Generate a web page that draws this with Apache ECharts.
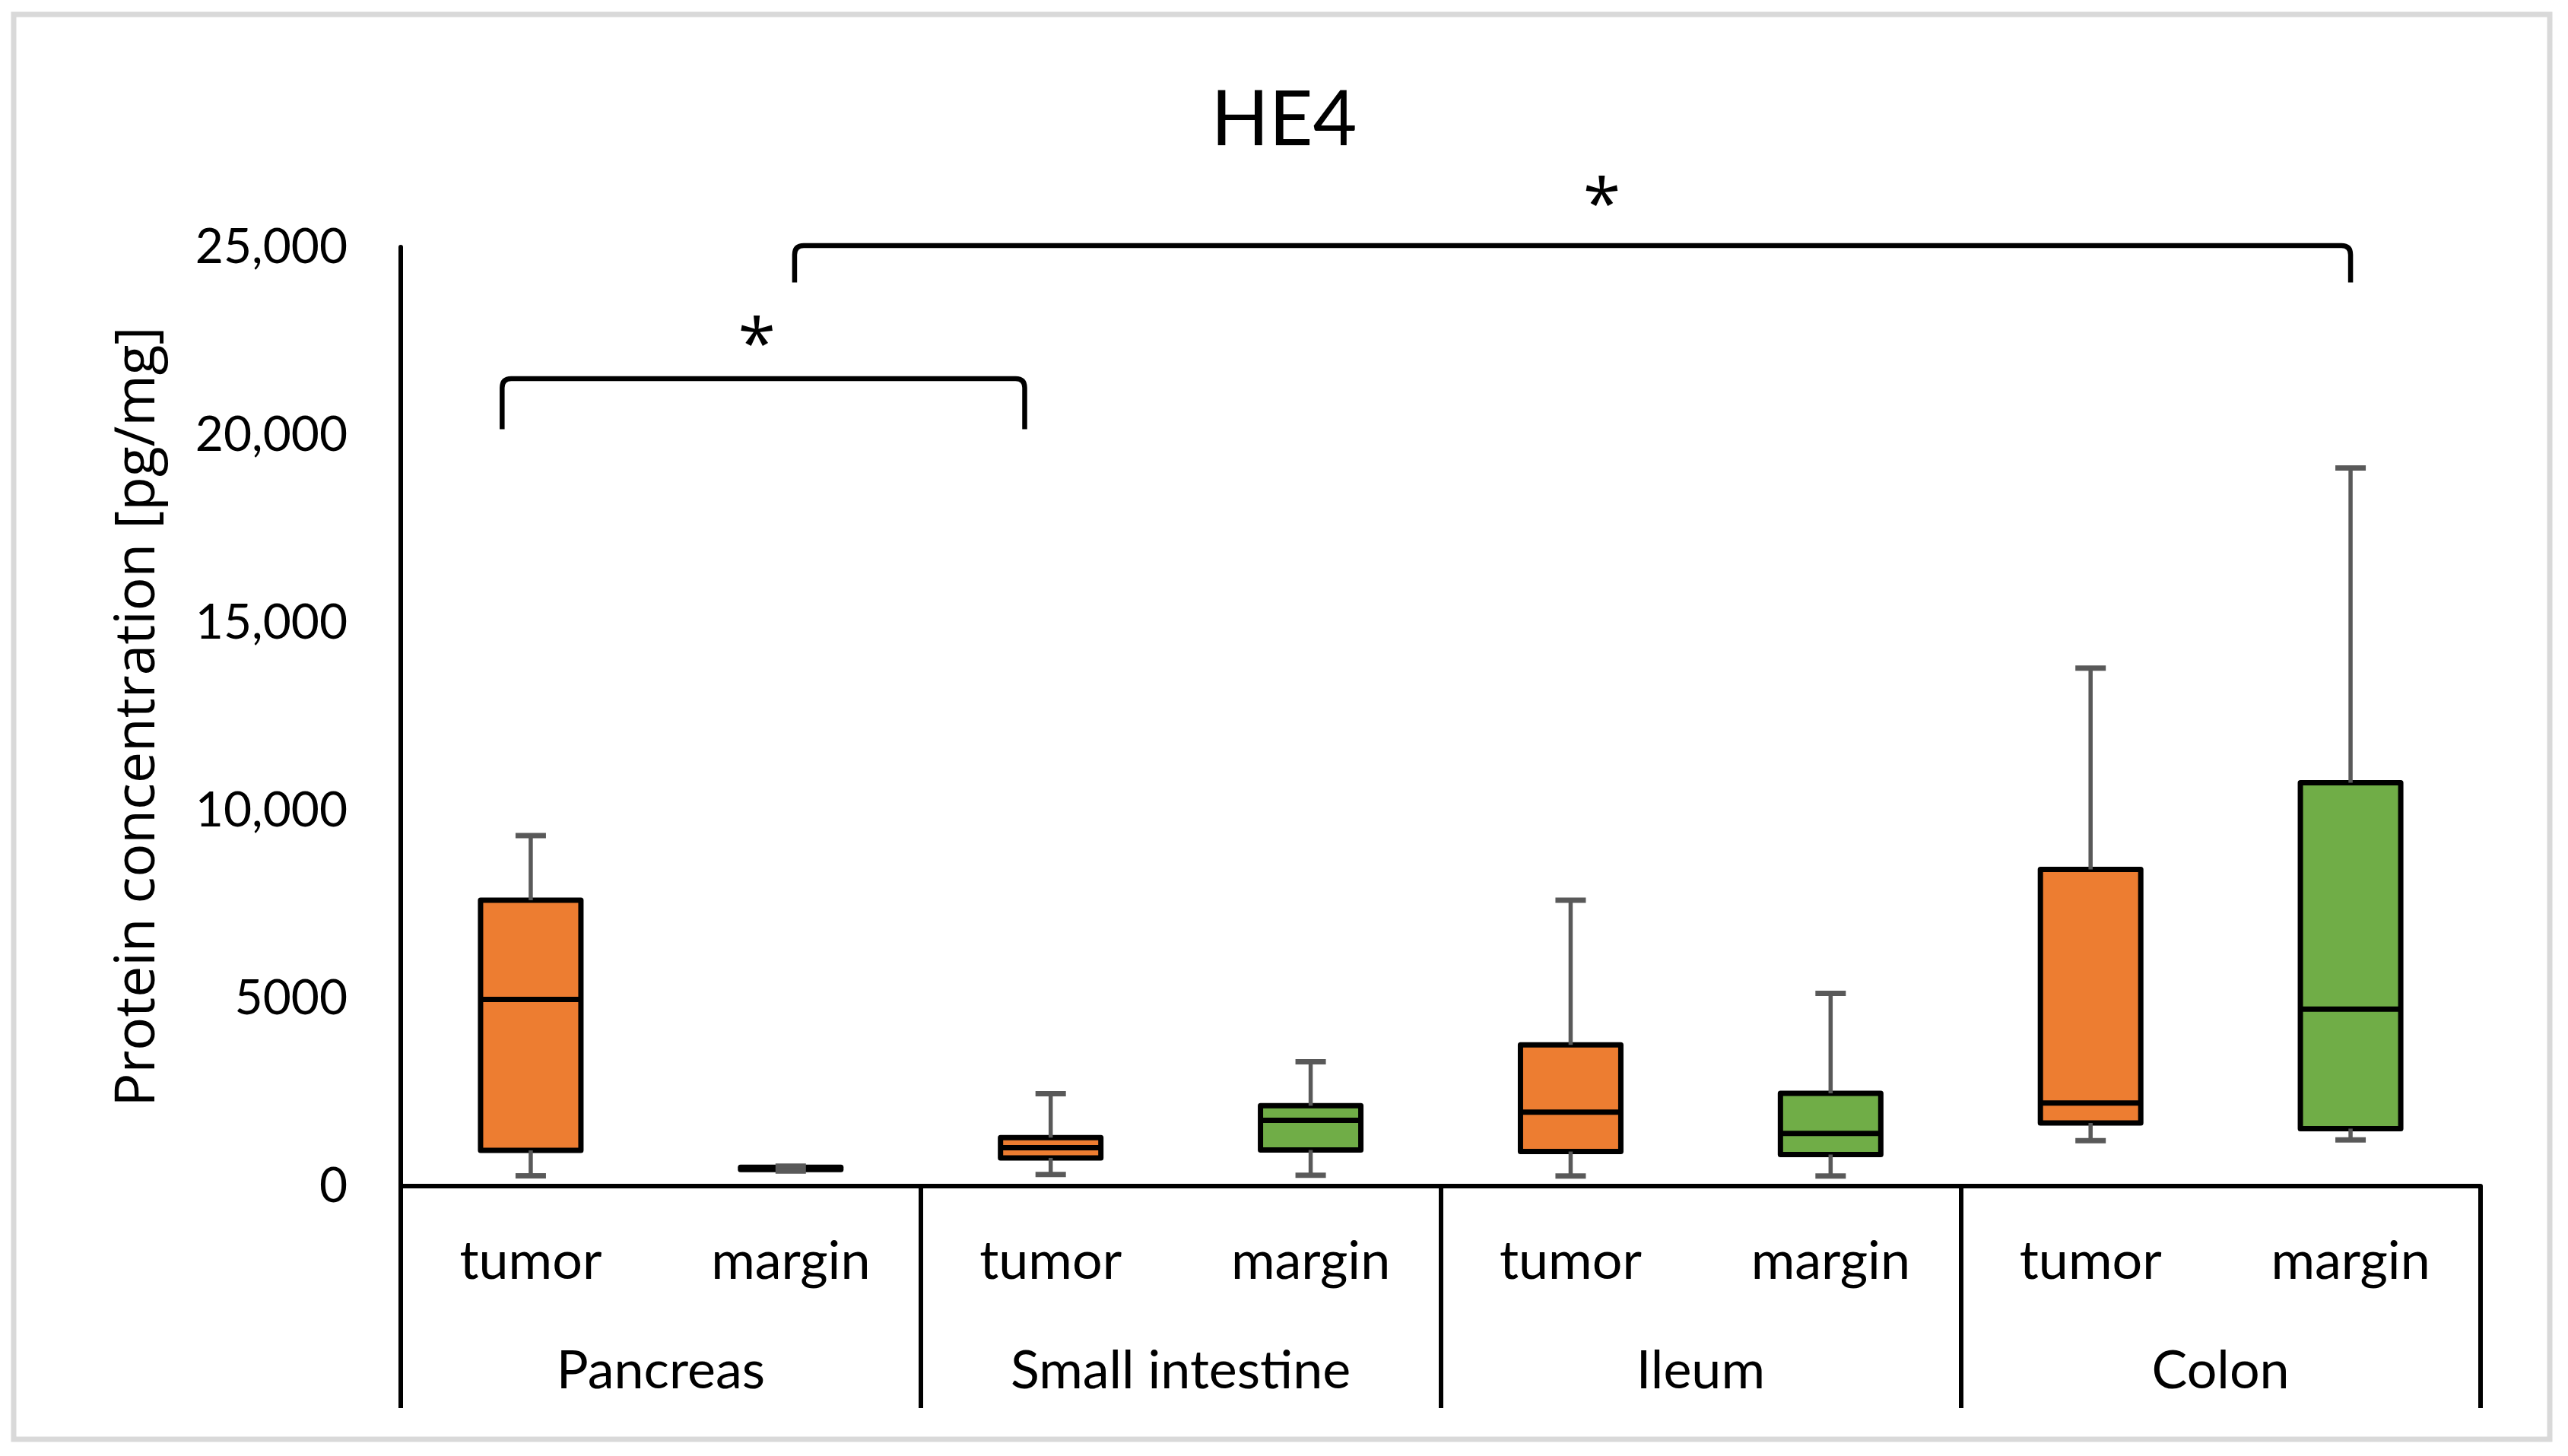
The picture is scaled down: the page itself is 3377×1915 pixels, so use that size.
<!DOCTYPE html>
<html>
<head>
<meta charset="utf-8">
<title>HE4</title>
<script src="https://cdn.jsdelivr.net/npm/echarts@6/dist/echarts.min.js"></script>
<style>
  html, body { margin: 0; padding: 0; background: #fff; }
  #chart { width: 3377px; height: 1915px; }
</style>
</head>
<body>
<div id="chart"></div>
<script>
const groups = ['Pancreas', 'Small intestine', 'Ileum', 'Colon'];
const tissues = ['tumor', 'margin'];

// one entry per box, order: Pancreas tumor, Pancreas margin, Small intestine tumor, ...
const whiskerLow  = [275,  400,  310,  290,  270,  270,  1210,  1230];
const quartile1   = [950,  440,  750,  960,  920,  840,  1680,  1530];
const median      = [4970, 470,  1020, 1750, 1970, 1400, 2210,  4710];
const quartile3   = [7610, 500,  1290, 2140, 3760, 2470, 8430,  10740];
const whiskerHigh = [9330, 530,  2460, 3310, 7610, 5130, 13790, 19120];

const yTickLabels = ['0', '5000', '10,000', '15,000', '20,000', '25,000'];

// significance brackets, x in box-index units, y in pg/mg
const bracketFrom  = [-0.11, 1.015];
const bracketTo    = [1.90, 7.0];
const bracketLevel = [21500, 25040];
const bracketFoot  = [20150, 24060];
const starX        = [0.87, 4.12];
const starY        = [22730, 26450];

const ORANGE = '#ED7D31';
const GREEN = '#70AD47';
const WHISKER = '#595959';
const CALIBRI = 'Lato, "Open Sans", sans-serif';

const boxLabels = [];
groups.forEach(() => tissues.forEach(t => boxLabels.push(t)));

const boxData = boxLabels.map((_, i) => [i, whiskerLow[i], quartile1[i], median[i], quartile3[i], whiskerHigh[i]]);
const bracketData = bracketFrom.map((f, i) => [f, bracketTo[i], bracketLevel[i], bracketFoot[i], starX[i], starY[i]]);

function renderBox(params, api) {
  const i = api.value(0);
  const x = api.coord([i, 0])[0];
  const yLo = api.coord([i, api.value(1)])[1];
  const yQ1 = api.coord([i, api.value(2)])[1];
  const yMed = api.coord([i, api.value(3)])[1];
  const yQ3 = api.coord([i, api.value(4)])[1];
  const yHi = api.coord([i, api.value(5)])[1];
  const bw = 132;
  const cap = 40;
  const fill = i % 2 === 0 ? ORANGE : GREEN;
  return {
    type: 'group',
    children: [
      { type: 'rect', shape: { x: x - bw / 2, y: yQ3, width: bw, height: yQ1 - yQ3 },
        style: { fill: fill, stroke: '#000', lineWidth: 7, lineJoin: 'round' } },
      { type: 'line', shape: { x1: x - bw / 2, y1: yMed, x2: x + bw / 2, y2: yMed },
        style: { stroke: '#000', lineWidth: 7 } },
      { type: 'line', shape: { x1: x, y1: yQ3, x2: x, y2: yHi }, style: { stroke: WHISKER, lineWidth: 5.5 } },
      { type: 'line', shape: { x1: x, y1: yQ1, x2: x, y2: yLo }, style: { stroke: WHISKER, lineWidth: 5.5 } },
      { type: 'line', shape: { x1: x - cap / 2, y1: yHi, x2: x + cap / 2, y2: yHi }, style: { stroke: WHISKER, lineWidth: 7 } },
      { type: 'line', shape: { x1: x - cap / 2, y1: yLo, x2: x + cap / 2, y2: yLo }, style: { stroke: WHISKER, lineWidth: 7 } }
    ]
  };
}

function renderBracket(params, api) {
  const p0 = api.coord([api.value(0), api.value(2)]);
  const p1 = api.coord([api.value(1), api.value(2)]);
  const yf = api.coord([api.value(0), api.value(3)])[1];
  const s = api.coord([api.value(4), api.value(5)]);
  const r = 12;
  const x0 = p0[0], x1 = p1[0], yl = p0[1];
  const d = 'M' + x0 + ' ' + yf + ' L' + x0 + ' ' + (yl + r) + ' Q' + x0 + ' ' + yl + ' ' + (x0 + r) + ' ' + yl +
    ' L' + (x1 - r) + ' ' + yl + ' Q' + x1 + ' ' + yl + ' ' + x1 + ' ' + (yl + r) + ' L' + x1 + ' ' + yf;
  return {
    type: 'group',
    children: [
      { type: 'path', shape: { pathData: d }, style: { fill: 'none', stroke: '#000', lineWidth: 6.5 } },
      { type: 'text', x: s[0], y: s[1] + 20,
        style: { text: '*', fill: '#000', font: '90px "Open Sans", sans-serif', align: 'center', verticalAlign: 'middle' } }
    ]
  };
}

const chart = echarts.init(document.getElementById('chart'));
chart.setOption({
  backgroundColor: '#fff',
  animation: false,
  title: {
    text: 'HE4',
    left: 'center',
    top: 104,
    textStyle: { fontFamily: CALIBRI, fontSize: 100, fontWeight: 'normal', color: '#000' }
  },
  graphic: [{
    type: 'rect',
    shape: { x: 18, y: 19, width: 3335, height: 1874 },
    style: { fill: 'none', stroke: '#D9D9D9', lineWidth: 7 },
    silent: true
  }],
  grid: { left: 527, right: 115, top: 325, bottom: 355 },
  xAxis: [
    {
      type: 'category',
      data: boxLabels,
      axisLine: { lineStyle: { color: '#000', width: 6 } },
      axisTick: { show: false },
      axisLabel: { interval: 0, margin: 64, fontFamily: CALIBRI, fontSize: 70, color: '#000' }
    },
    {
      type: 'category',
      data: groups,
      position: 'bottom',
      axisLine: { show: false },
      axisTick: { show: true, interval: 0, length: 292, lineStyle: { color: '#000', width: 6 } },
      axisLabel: { interval: 0, margin: 208, fontFamily: CALIBRI, fontSize: 70, color: '#000' }
    },
    { type: 'value', min: -0.5, max: 7.5, show: false }
  ],
  yAxis: {
    type: 'value',
    min: 0,
    max: 25000,
    interval: 5000,
    name: 'Protein concentration [pg/mg]',
    nameLocation: 'middle',
    nameGap: 308,
    nameTextStyle: { fontFamily: '"Open Sans", sans-serif', fontSize: 73, color: '#000' },
    axisLine: { show: true, onZero: false, lineStyle: { color: '#000', width: 6 } },
    axisTick: { show: false },
    splitLine: { show: false },
    axisLabel: {
      margin: 70, fontFamily: CALIBRI, fontSize: 64, color: '#000',
      formatter: v => yTickLabels[Math.round(v / 5000)]
    }
  },
  series: [
    {
      type: 'custom',
      xAxisIndex: 0,
      renderItem: renderBox,
      data: boxData,
      encode: { x: 0, y: [1, 2, 3, 4, 5] },
      clip: false
    },
    {
      type: 'custom',
      xAxisIndex: 2,
      renderItem: renderBracket,
      data: bracketData,
      encode: { x: [0, 1, 4], y: [2, 3, 5] },
      clip: false
    }
  ]
});
</script>
</body>
</html>
